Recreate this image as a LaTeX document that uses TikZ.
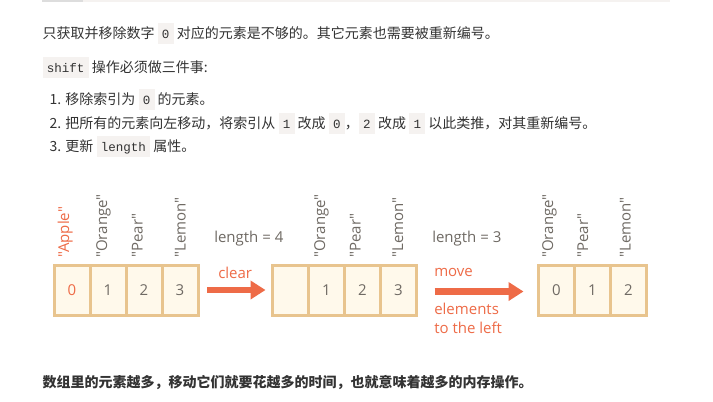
\documentclass[tikz,border=0pt]{standalone}
\usepackage{fontspec}
\newfontfamily\dfont{Open Sans}
\setmainfont{Open Sans}
\newfontfamily\cjk{Noto Sans CJK SC}
\newfontfamily\codefont{Liberation Mono}
\usetikzlibrary{arrows.meta}
\definecolor{txt}{HTML}{333333}
\definecolor{codebg}{HTML}{F5F2F0}
\definecolor{bardark}{HTML}{DDDDDD}
\definecolor{barlight}{HTML}{F5F2F0}
\definecolor{cellfill}{HTML}{FFF9EB}
\definecolor{cellborder}{HTML}{E8C48E}
\definecolor{accent}{HTML}{EE6B47}
\definecolor{dgrey}{HTML}{6F6A64}
\newcommand\code[1]{{\setlength{\fboxsep}{0pt}\colorbox{codebg}{\rule[-4.25pt]{0pt}{15.75pt}\hspace{3.2pt}{\codefont\fontsize{9.4pt}{9.4pt}\selectfont #1}\hspace{3.2pt}}}}
\begin{document}
\begin{tikzpicture}[x=0.75pt,y=-0.75pt,
  para/.style={anchor=base west,inner sep=0,text=txt,font=\cjk\fontsize{10.5pt}{12pt}\selectfont},
  cell/.style={draw=cellborder,fill=cellfill,line width=2.25pt,minimum width=27pt,minimum height=37.5pt,inner sep=0,text=dgrey,font=\dfont\fontsize{11.25pt}{13pt}\selectfont},
  lbl/.style={rotate=90,anchor=base west,inner sep=0,text=dgrey,font=\dfont\fontsize{11.25pt}{13pt}\selectfont},
  note/.style={anchor=base west,inner sep=0,font=\dfont\fontsize{11.25pt}{13pt}\selectfont},
  bigarrow/.style={draw=accent,line width=5pt,-{Triangle[length=11.25pt,width=13.5pt]}}
]
\fill[white] (0,0) rectangle (713,401);
\useasboundingbox (0,0) rectangle (713,401);
\fill[bardark] (42,0) rectangle (83,2);
\fill[barlight] (83,0) rectangle (670,2);

\node[para] (t1) at (42.3,38.6) {只获取并移除数字 \code{0} 对应的元素是不够的。其它元素也需要被重新编号。};
\node[para] (t2) at (42.3,72) {\code{shift} 操作必须做三件事:};
\node[para] (l1) at (49.3,104.1) {1. 移除索引为 \code{0} 的元素。};
\node[para] (l2) at (49.3,128.1) {2. 把所有的元素向左移动，将索引从 \code{1} 改成 \code{0}，\code{2} 改成 \code{1} 以此类推，对其重新编号。};
\node[para] (l3) at (49.3,151.7) {3. 更新 \code{length} 属性。};
\node[para,font=\cjk\bfseries\fontsize{10.5pt}{12pt}\selectfont] (t3) at (42.3,387) {数组里的元素越多，移动它们就要花越多的时间，也就意味着越多的内存操作。};

% first array
\node[cell] (a0) at (72,290.5) {\textcolor{accent}{0}};
\node[cell] (a1) at (108,290.5) {1};
\node[cell] (a2) at (144,290.5) {2};
\node[cell] (a3) at (180,290.5) {3};
\node[lbl,text=accent] (la0) at (69,258) {"Apple"};
\node[lbl] (la1) at (107,258) {"Orange"};
\node[lbl] (la2) at (142.7,258) {"Pear"};
\node[lbl] (la3) at (185.5,258) {"Lemon"};

% second array
\node[cell] (b0) at (290.5,290.5) {};
\node[cell] (b1) at (326.5,290.5) {1};
\node[cell] (b2) at (362.5,290.5) {2};
\node[cell] (b3) at (398.5,290.5) {3};
\node[lbl] (lb1) at (325,258) {"Orange"};
\node[lbl] (lb2) at (360.7,258) {"Pear"};
\node[lbl] (lb3) at (403,258) {"Lemon"};

% third array
\node[cell] (c0) at (556.5,290.5) {0};
\node[cell] (c1) at (592.5,290.5) {1};
\node[cell] (c2) at (628.5,290.5) {2};
\node[lbl] (lc0) at (553,258) {"Orange"};
\node[lbl] (lc1) at (588,258) {"Pear"};
\node[lbl] (lc2) at (630.5,258) {"Lemon"};

% notes
\node[note,text=dgrey] (len1) at (214,242) {length = 4};
\node[note,text=accent] (clr) at (218,278) {clear};
\node[note,text=dgrey] (len2) at (432,242) {length = 3};
\node[note,text=accent] (mv) at (434,276) {move};
\node[note,text=accent] (el) at (434,314) {elements};
\node[note,text=accent] (tl) at (434,333) {to the left};

% arrows
\coordinate (s1) at (207,290);
\coordinate (e1) at (265.5,290);
\coordinate (s2) at (434.5,291.5);
\coordinate (e2) at (523.5,291.5);
\draw[bigarrow] (s1) -- (e1);
\draw[bigarrow] (s2) -- (e2);
\end{tikzpicture}
\end{document}
